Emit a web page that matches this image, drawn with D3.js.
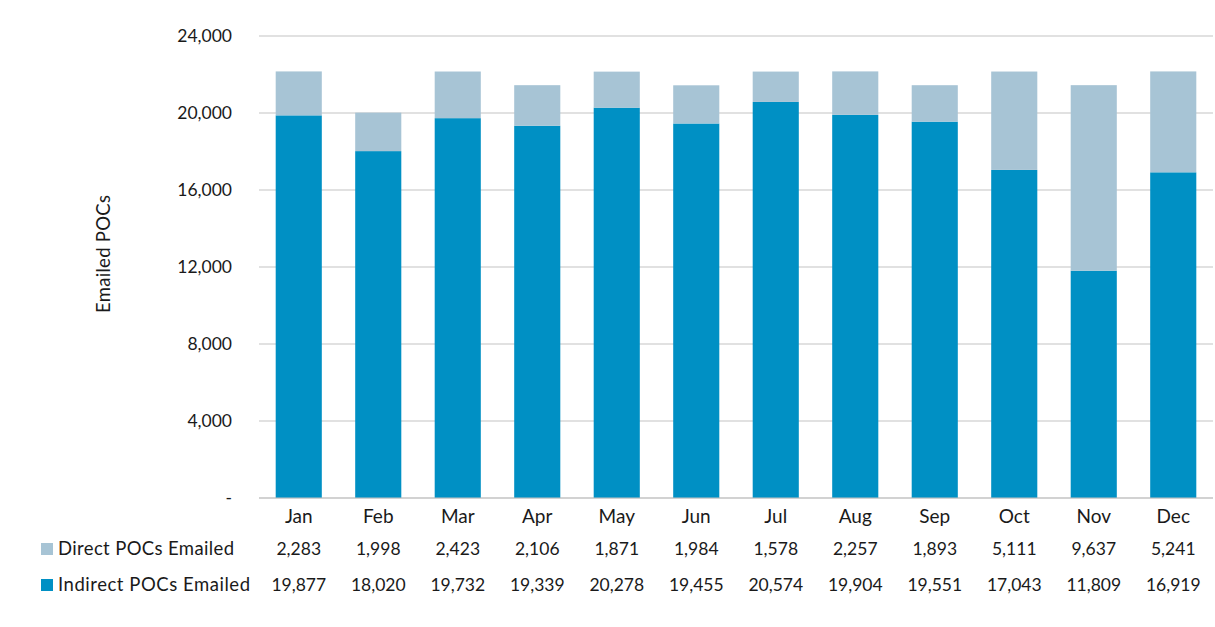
<!DOCTYPE html>
<html><head><meta charset="utf-8">
<script src="https://cdn.jsdelivr.net/npm/d3@7"></script>
<style>body{margin:0;background:#fff}svg text{font-family:"Source Sans Pro",Lato,"Noto Sans",sans-serif;fill:#1a1a1a}</style>
</head><body><svg id="c" width="1215" height="627"></svg>
<script>
const months = ["Jan","Feb","Mar","Apr","May","Jun","Jul","Aug","Sep","Oct","Nov","Dec"];
const direct = [2283,1998,2423,2106,1871,1984,1578,2257,1893,5111,9637,5241];
const indirect = [19877,18020,19732,19339,20278,19455,20574,19904,19551,17043,11809,16919];
const yTicks = [0,4000,8000,12000,16000,20000,24000];
const seriesNames = ["Direct POCs Emailed","Indirect POCs Emailed"];
const colors = {direct:"#A7C4D5", indirect:"#0090C4"};

const svg = d3.select("#c");
const L = 259, R = 1213, T = 36, B = 498;
const x = d3.scaleBand().domain(months).range([L,R]).paddingInner(0.42).paddingOuter(0.21);
const y = d3.scaleLinear().domain([0,24000]).range([B,T]);
const fmt = d3.format(",");

svg.append("g").selectAll("line").data(yTicks).join("line")
  .attr("x1",L).attr("x2",R).attr("y1",d=>y(d)).attr("y2",d=>y(d))
  .attr("stroke","#c3c3c3").attr("stroke-width",1);

svg.append("g").selectAll("text").data(yTicks).join("text")
  .attr("x",232).attr("y",d=>y(d)).attr("dy","0.35em").attr("text-anchor","end")
  .attr("font-size",17.5).text(d=>d===0?"-":fmt(d));

svg.append("text").attr("transform","translate(110,254) rotate(-90)")
  .attr("text-anchor","middle").attr("font-size",18.5).attr("textLength",118).text("Emailed POCs");

const data = months.map((m,i)=>({m, direct:direct[i], indirect:indirect[i]}));
const stack = d3.stack().keys(["indirect","direct"])(data);
svg.append("g").selectAll("g").data(stack).join("g")
  .attr("fill",d=>colors[d.key])
  .selectAll("rect").data(d=>d).join("rect")
  .attr("x",d=>x(d.data.m)).attr("width",x.bandwidth())
  .attr("y",d=>y(d[1])).attr("height",d=>y(d[0])-y(d[1]));

svg.append("line").attr("x1",L).attr("x2",R).attr("y1",y(0)).attr("y2",y(0)).attr("stroke","#c3c3c3");

svg.append("g").selectAll("text").data(months).join("text")
  .attr("x",d=>x(d)+x.bandwidth()/2).attr("y",523).attr("text-anchor","middle")
  .attr("font-size",19).text(d=>d);

const rows = [{name:seriesNames[0], vals:direct, col:colors.direct, yy:549, len:176},
              {name:seriesNames[1], vals:indirect, col:colors.indirect, yy:585, len:192}];
rows.forEach(r=>{
  svg.append("rect").attr("x",41).attr("y",r.yy-6).attr("width",12).attr("height",12).attr("fill",r.col);
  svg.append("text").attr("x",58).attr("y",r.yy).attr("dy","0.35em").attr("font-size",18.5)
    .attr("textLength",r.len).text(r.name);
  svg.append("g").selectAll("text").data(r.vals).join("text")
    .attr("x",(d,i)=>x(months[i])+x.bandwidth()/2).attr("y",r.yy).attr("dy","0.35em")
    .attr("text-anchor","middle").attr("font-size",17.5).text(d=>fmt(d));
});
</script></body></html>
